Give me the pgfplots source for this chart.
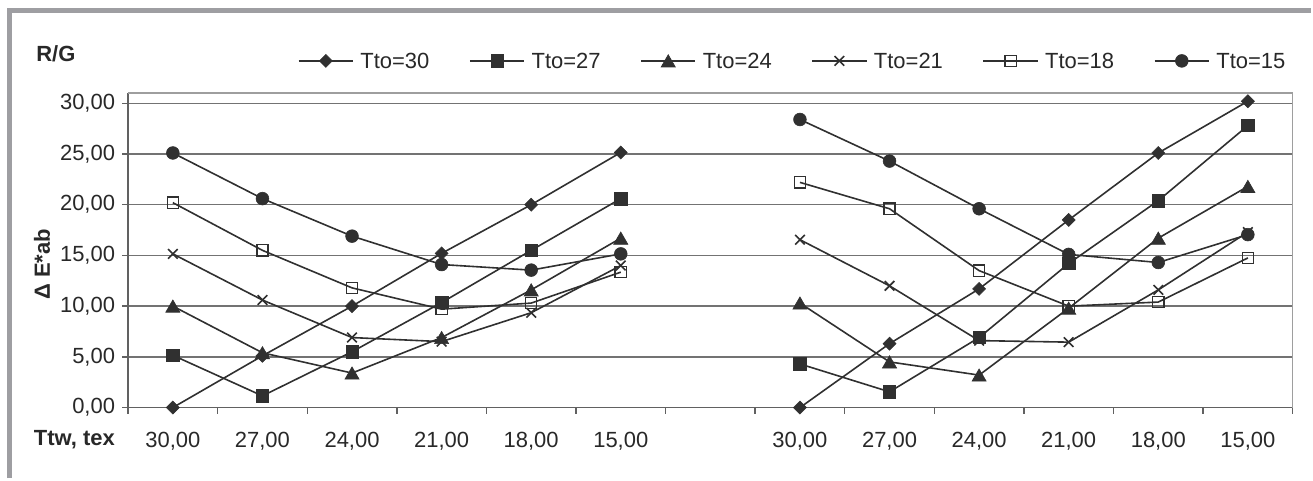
\documentclass[border=0pt]{standalone}
\usepackage{fontspec}
\setmainfont{Liberation Sans}
\usepackage{pgfplots}
\pgfplotsset{compat=1.18}
\definecolor{frame}{RGB}{158,158,162}
\definecolor{ser}{RGB}{48,48,48}
\definecolor{txt}{RGB}{40,40,40}
\begin{document}
\begin{tikzpicture}[x=1pt,y=1pt]
\path (0,0) rectangle (656.5,239.5);
\draw[frame, line width=2.4pt] (3.8,234.25) -- (656.5,234.25);
\draw[frame, line width=2.5pt] (4.9,0) -- (4.9,235.4);
\node[anchor=base west, font=\fontsize{11}{13}\selectfont\bfseries, text=txt, inner sep=0pt] at (18,208.6) {R/G};
\node[anchor=base west, font=\fontsize{11}{13}\selectfont\bfseries, text=txt, inner sep=0pt] at (16.8,16.2) {Ttw, tex};
\node[anchor=base, rotate=90, font=\fontsize{11}{13}\selectfont\bfseries, text=txt, inner sep=0pt] at (25,107) {Δ E*ab};
\begin{axis}[
  at={(64.15pt,35.35pt)}, anchor=south west,
  scale only axis, width=583.35pt, height=157.5pt,
  xmin=-0.5, xmax=12.5, ymin=0, ymax=31,
  clip=false, unbounded coords=jump,
  axis lines*=left,
  axis line style={-, draw=black!62, line width=0.8pt},
  every inner x axis line/.append style={-},
  every outer x axis line/.append style={-},
  every inner y axis line/.append style={-},
  every outer y axis line/.append style={-},
  xtick={0,1,2,3,4,5,7,8,9,10,11,12},
  xticklabels={{30,00},{27,00},{24,00},{21,00},{18,00},{15,00},{30,00},{27,00},{24,00},{21,00},{18,00},{15,00}},
  minor xtick={-0.5,0.5,1.5,2.5,3.5,4.5,5.5,6.5,7.5,8.5,9.5,10.5,11.5,12.5},
  major x tick style={draw=none},
  minor x tick style={draw=black!62, line width=0.7pt},
  ytick={0,5,10,15,20,25,30},
  yticklabels={{0,00},{5,00},{10,00},{15,00},{20,00},{25,00},{30,00}},
  y tick style={draw=black!62, line width=0.7pt},
  tick align=outside,
  major tick length=3pt, minor tick length=3pt,
  ymajorgrids, major grid style={draw=black!55, line width=0.7pt},
  tick label style={font=\fontsize{11}{13}\selectfont, text=txt},
  xticklabel style={yshift=-6pt},
  legend columns=6,
  legend style={at={(0.1455,1.1025)}, anchor=west, draw=none, fill=none, inner sep=0pt,
    font=\fontsize{11}{13}\selectfont, text=txt,
    nodes={inner sep=0pt, text depth=0pt},
    /tikz/every odd column/.append style={column sep=3.3pt},
    /tikz/every even column/.append style={column sep=19.9pt}},
  legend cell align=left,
  legend image code/.code={\draw[mark repeat=2, mark phase=2, #1] plot coordinates {(0pt,0pt) (13.6pt,0pt) (27.2pt,0pt)};},
  every axis plot/.append style={line width=0.8pt, draw=ser},
]
\draw[black!38, line width=0.8pt] (rel axis cs:0,1) -- (rel axis cs:1,1) -- (rel axis cs:1,0);
% Tto=30
\addplot[ser, mark=square*, mark size=2.3pt, mark options={rotate=45, fill=ser, draw=ser, line width=0.3pt}] coordinates {
 (0,0) (1,5.1) (2,10.0) (3,15.2) (4,20.0) (5,25.15) (6,nan)
 (7,0) (8,6.3) (9,11.7) (10,18.5) (11,25.1) (12,30.2)};
\addlegendentry{Tto=30}
% Tto=27
\addplot[ser, mark=square*, mark size=3.1pt, mark options={fill=ser, draw=ser, line width=0.3pt}] coordinates {
 (0,5.15) (1,1.15) (2,5.5) (3,10.35) (4,15.5) (5,20.6) (6,nan)
 (7,4.3) (8,1.55) (9,6.9) (10,14.2) (11,20.4) (12,27.8)};
\addlegendentry{Tto=27}
% Tto=24
\addplot[ser, mark=triangle*, mark size=4.1pt, mark options={fill=ser, draw=ser, line width=0.3pt, yshift=-1pt}] coordinates {
 (0,10.0) (1,5.4) (2,3.4) (3,6.9) (4,11.6) (5,16.7) (6,nan)
 (7,10.3) (8,4.5) (9,3.2) (10,9.8) (11,16.7) (12,21.8)};
\addlegendentry{Tto=24}
% Tto=21
\addplot[ser, mark=x, mark size=3.4pt, mark options={draw=ser, line width=0.8pt}] coordinates {
 (0,15.15) (1,10.6) (2,6.9) (3,6.5) (4,9.35) (5,14.0) (6,nan)
 (7,16.55) (8,12.0) (9,6.6) (10,6.45) (11,11.6) (12,17.3)};
\addlegendentry{Tto=21}
% Tto=18
\addplot[ser, mark=square, mark size=2.8pt, mark options={fill=white, draw=ser, line width=0.7pt}] coordinates {
 (0,20.2) (1,15.5) (2,11.8) (3,9.7) (4,10.3) (5,13.35) (6,nan)
 (7,22.2) (8,19.6) (9,13.5) (10,10.0) (11,10.4) (12,14.75)};
\addlegendentry{Tto=18}
% Tto=15
\addplot[ser, mark=*, mark size=3.2pt, mark options={fill=ser, draw=ser, line width=0.3pt}] coordinates {
 (0,25.1) (1,20.6) (2,16.9) (3,14.1) (4,13.55) (5,15.15) (6,nan)
 (7,28.4) (8,24.3) (9,19.6) (10,15.1) (11,14.3) (12,17.05)};
\addlegendentry{Tto=15}
\end{axis}
\end{tikzpicture}
\end{document}
